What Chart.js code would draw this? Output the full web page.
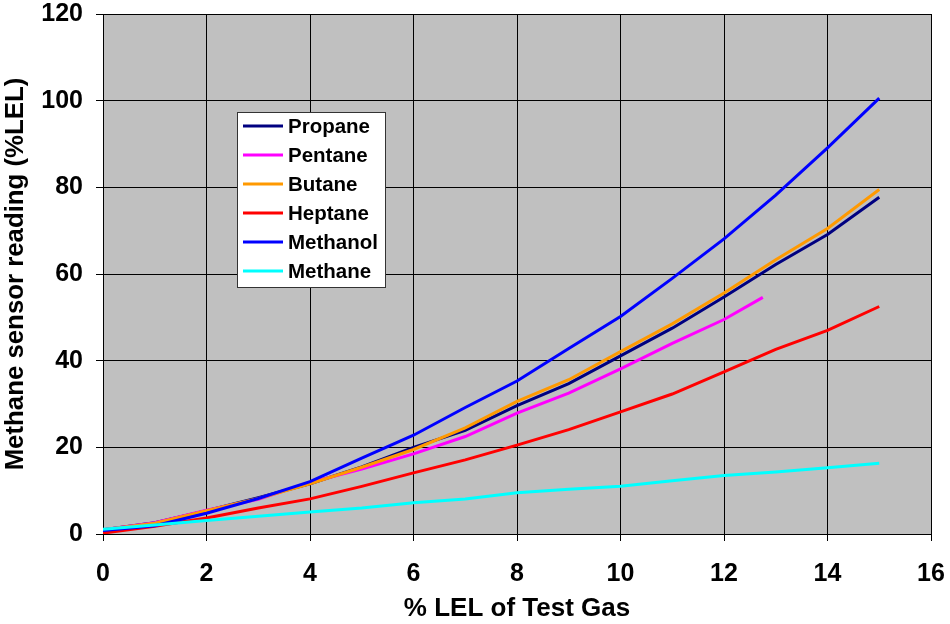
<!DOCTYPE html>
<html>
<head>
<meta charset="utf-8">
<script src="https://cdn.jsdelivr.net/npm/chart.js@4/dist/chart.umd.min.js"></script>
<style>
  html, body { margin: 0; padding: 0; background: #ffffff; }
  #wrap { position: relative; width: 950px; height: 624px; }
</style>
</head>
<body>
<div id="wrap"><canvas id="chart" width="950" height="624"></canvas></div>
<script>
// Test gas concentration (% LEL)
const testGasLEL = [0, 1, 2, 3, 4, 5, 6, 7, 8, 9, 10, 11, 12, 13, 14, 15];
const pentaneLEL = [0, 1, 2, 3, 4, 5, 6, 7, 8, 9, 10, 11, 12, 12.75];

// Methane sensor readings (% LEL)
const propane  = [1.0, 2.6, 5.4, 8.4, 11.6, 15.5, 20.0, 23.9, 29.6, 34.7, 41.1, 47.5, 54.7, 62.2, 69.1, 77.7];
const pentane  = [1.0, 2.6, 5.5, 8.0, 11.9, 15.0, 18.5, 22.5, 27.9, 32.5, 38.1, 44.0, 49.5, 54.6];
const butane   = [1.0, 2.5, 5.4, 8.2, 11.6, 15.4, 19.5, 24.5, 30.6, 35.6, 42.1, 48.5, 55.6, 63.3, 70.5, 79.5];
const heptane  = [0.2, 1.8, 3.7, 6.0, 8.1, 11.0, 14.1, 17.1, 20.5, 24.1, 28.2, 32.3, 37.4, 42.6, 47.0, 52.5];
const methanol = [0.8, 1.9, 4.8, 8.2, 12.1, 17.5, 22.8, 29.2, 35.3, 42.8, 50.2, 59.0, 68.1, 78.2, 89.1, 100.6];
const methane  = [1.1, 2.1, 3.1, 4.1, 5.1, 6.0, 7.2, 8.1, 9.5, 10.3, 11.0, 12.3, 13.5, 14.3, 15.3, 16.3];

const seriesNames  = ['Propane', 'Pentane', 'Butane', 'Heptane', 'Methanol', 'Methane'];
const seriesColors = ['#000080', '#FF00FF', '#FF9900', '#FF0000', '#0000FF', '#00FFFF'];
const xTicks = [0, 2, 4, 6, 8, 10, 12, 14, 16];
const yTicks = [0, 20, 40, 60, 80, 100, 120];

const FONT = '"Liberation Sans", Arial, sans-serif';

function pts(xs, ys) { return ys.map((v, i) => ({ x: xs[i], y: v })); }

const seriesData = [
  pts(testGasLEL, propane),
  pts(pentaneLEL, pentane),
  pts(testGasLEL, butane),
  pts(testGasLEL, heptane),
  pts(testGasLEL, methanol),
  pts(testGasLEL, methane)
];

const datasets = seriesNames.map((name, i) => ({
  label: name,
  data: seriesData[i],
  borderColor: seriesColors[i],
  backgroundColor: seriesColors[i],
  borderWidth: 3,
  pointRadius: 0,
  tension: 0,
  fill: false,
  order: seriesNames.length - i
}));

// grey plot background
const plotBackground = {
  id: 'plotBackground',
  beforeDraw(chart) {
    const { ctx, chartArea: a } = chart;
    ctx.save();
    ctx.fillStyle = '#C0C0C0';
    ctx.fillRect(a.left, a.top, a.right - a.left, a.bottom - a.top);
    ctx.restore();
  }
};

// boxed legend inside the plot
const boxLegend = {
  id: 'boxLegend',
  afterDatasetsDraw(chart) {
    const { ctx } = chart;
    const bx = 237, by = 112, bw = 148, bh = 175;
    ctx.save();
    ctx.fillStyle = '#ffffff';
    ctx.fillRect(bx, by, bw, bh);
    ctx.strokeStyle = '#333333';
    ctx.lineWidth = 1;
    ctx.strokeRect(bx + 0.5, by + 0.5, bw, bh);
    ctx.font = 'bold 20.5px ' + FONT;
    ctx.textBaseline = 'middle';
    ctx.textAlign = 'left';
    chart.data.datasets.forEach((ds, i) => {
      const cy = 126 + i * 29;
      ctx.strokeStyle = ds.borderColor;
      ctx.lineWidth = 3;
      ctx.beginPath();
      ctx.moveTo(243, cy);
      ctx.lineTo(283, cy);
      ctx.stroke();
      ctx.fillStyle = '#000000';
      ctx.fillText(ds.label, 288, cy + 1);
    });
    ctx.restore();
  }
};

new Chart(document.getElementById('chart'), {
  type: 'line',
  data: { datasets },
  plugins: [plotBackground, boxLegend],
  options: {
    responsive: false,
    animation: false,
    layout: { padding: { top: 14, right: 19, left: 0, bottom: 0 } },
    plugins: { legend: { display: false }, tooltip: { enabled: false } },
    scales: {
      x: {
        type: 'linear',
        min: 0, max: 16,
        afterBuildTicks(scale) { scale.ticks = xTicks.map(v => ({ value: v })); },
        afterFit(scale) {
          scale.height = 90;
          scale.paddingLeft = 0;
          scale.paddingRight = 0;
        },
        grid: { color: '#000000', lineWidth: 1, tickLength: 7, drawTicks: true, tickColor: '#000000' },
        border: { color: '#000000', width: 1 },
        ticks: {
          color: '#000000', padding: 18, maxRotation: 0,
          font: { family: FONT, size: 25, weight: 'bold' }
        },
        title: {
          display: true, text: '% LEL of Test Gas', color: '#000000',
          font: { family: FONT, size: 26, weight: 'bold' }, padding: { top: 0, bottom: 0 }
        }
      },
      y: {
        type: 'linear',
        min: 0, max: 120,
        afterBuildTicks(scale) { scale.ticks = yTicks.map(v => ({ value: v })); },
        afterFit(scale) {
          scale.width = 103;
          scale.paddingTop = 0;
          scale.paddingBottom = 0;
        },
        grid: { color: '#000000', lineWidth: 1, tickLength: 7, drawTicks: true, tickColor: '#000000' },
        border: { color: '#000000', width: 1 },
        ticks: {
          color: '#000000', padding: 13,
          font: { family: FONT, size: 25, weight: 'bold' }
        },
        title: {
          display: true, text: 'Methane sensor reading (%LEL)', color: '#000000',
          font: { family: FONT, size: 25.8, weight: 'bold' }, padding: { top: 0, bottom: 4 }
        }
      }
    }
  }
});
</script>
</body>
</html>
